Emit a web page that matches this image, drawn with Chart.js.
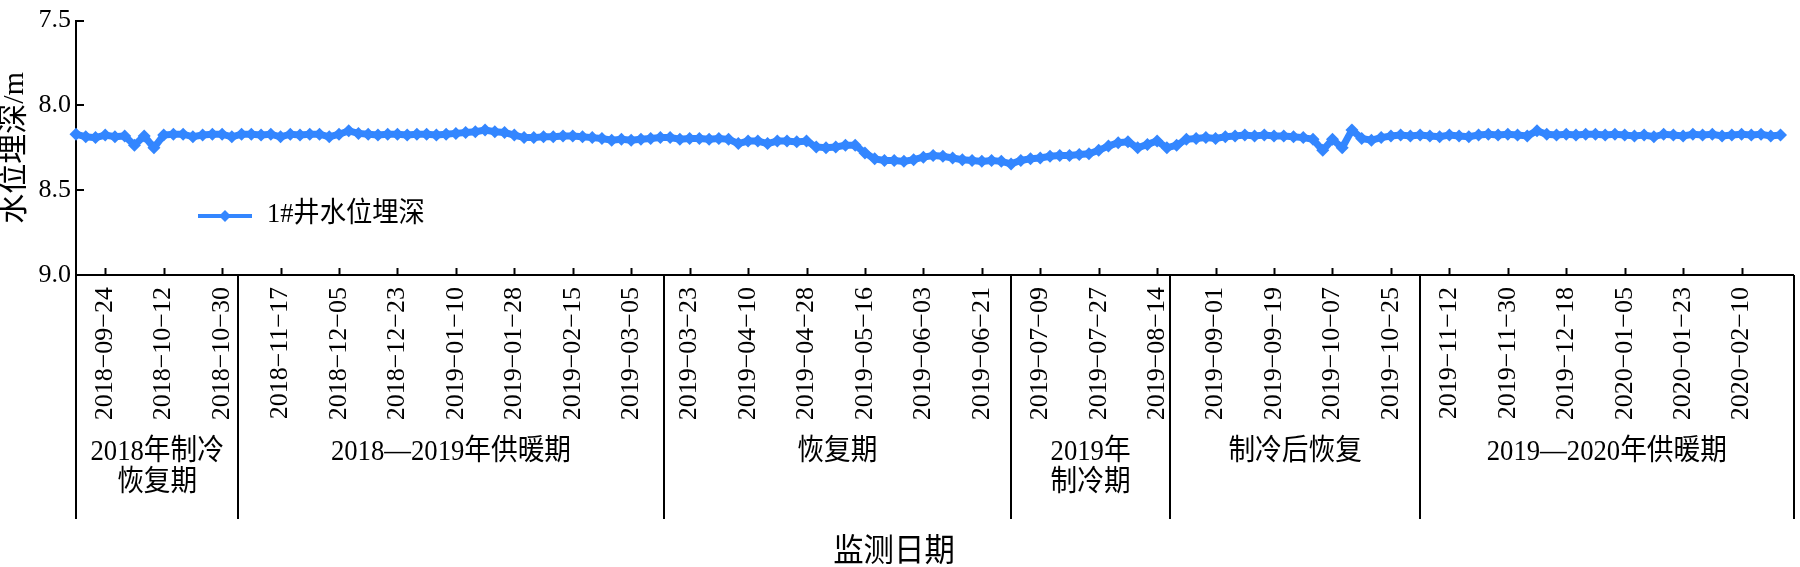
<!DOCTYPE html>
<html>
<head>
<meta charset="utf-8">
<script src="https://cdn.jsdelivr.net/npm/chart.js@4.4.0/dist/chart.umd.min.js"></script>
<style>
  html, body { margin: 0; padding: 0; background: #fff; }
  canvas { display: block; }
</style>
</head>
<body>
<canvas id="depthChart" width="1800" height="567"></canvas>
<script>
// first sample date, then one reading every 3 days
var depthStart = '2018-09-15';
var depthStepDays = 3;
var depthValues = [
    8.17, 8.185, 8.19, 8.175, 8.185, 8.18, 8.235, 8.18, 8.25, 8.175,
    8.17, 8.17, 8.185, 8.175, 8.17, 8.17, 8.185, 8.17, 8.17, 8.175,
    8.17, 8.185, 8.17, 8.175, 8.17, 8.17, 8.185, 8.17, 8.15, 8.165,
    8.17, 8.175, 8.17, 8.17, 8.175, 8.17, 8.17, 8.175, 8.17, 8.165,
    8.16, 8.155, 8.145, 8.155, 8.16, 8.175, 8.19, 8.19, 8.185, 8.185,
    8.18, 8.18, 8.185, 8.19, 8.195, 8.205, 8.2, 8.205, 8.2, 8.195,
    8.19, 8.19, 8.2, 8.195, 8.195, 8.2, 8.195, 8.2, 8.225, 8.21,
    8.21, 8.225, 8.21, 8.21, 8.215, 8.21, 8.245, 8.25, 8.245, 8.235,
    8.235, 8.28, 8.315, 8.325, 8.325, 8.33, 8.32, 8.305, 8.295, 8.3,
    8.31, 8.32, 8.325, 8.33, 8.325, 8.33, 8.345, 8.325, 8.315, 8.31,
    8.3, 8.295, 8.295, 8.29, 8.285, 8.265, 8.24, 8.22, 8.215, 8.25,
    8.23, 8.21, 8.25, 8.235, 8.2, 8.195, 8.19, 8.195, 8.185, 8.18,
    8.175, 8.18, 8.175, 8.18, 8.18, 8.185, 8.19, 8.2, 8.265, 8.2,
    8.25, 8.145, 8.195, 8.205, 8.19, 8.18, 8.175, 8.18, 8.175, 8.18,
    8.185, 8.175, 8.18, 8.185, 8.175, 8.17, 8.175, 8.17, 8.175, 8.18,
    8.15, 8.17, 8.175, 8.17, 8.175, 8.17, 8.17, 8.175, 8.17, 8.175,
    8.18, 8.175, 8.185, 8.17, 8.175, 8.18, 8.17, 8.175, 8.17, 8.18,
    8.175, 8.17, 8.175, 8.17, 8.18, 8.175
];

var axisEnd = '2020-02-26';

var tickDates = [
    '2018-09-24', '2018-10-12', '2018-10-30', '2018-11-17', '2018-12-05',
    '2018-12-23', '2019-01-10', '2019-01-28', '2019-02-15', '2019-03-05',
    '2019-03-23', '2019-04-10', '2019-04-28', '2019-05-16', '2019-06-03',
    '2019-06-21', '2019-07-09', '2019-07-27', '2019-08-14', '2019-09-01',
    '2019-09-19', '2019-10-07', '2019-10-25', '2019-11-12', '2019-11-30',
    '2019-12-18', '2020-01-05', '2020-01-23', '2020-02-10'
];
var depthTicks = [7.5, 8.0, 8.5, 9.0];

// period boxes under the axis: edges and names
var periodEdges = ['2018-09-15', '2018-11-04', '2019-03-15', '2019-06-30', '2019-08-18', '2019-11-03', '2020-02-26'];
var periodNames = [
    ['2018年制冷', '恢复期'],
    ['2018—2019年供暖期'],
    ['恢复期'],
    ['2019年', '制冷期'],
    ['制冷后恢复'],
    ['2019—2020年供暖期']
];

var seriesName = '1#井水位埋深';
var blue = 'rgb(51,134,255)';
var serif = "'Liberation Serif', 'Noto Sans CJK SC', serif";

function dayOf(s) {
    return (Date.parse(s + 'T00:00:00Z') - Date.parse(depthStart + 'T00:00:00Z')) / 86400000;
}

var points = [];
for (var i = 0; i < depthValues.length; i++) {
    points.push({ x: i * depthStepDays, y: depthValues[i] });
}

// condensed text like the journal figure
function squeezeText(ctx, txt, x, y, size, sx, align) {
    ctx.save();
    ctx.font = size + 'px ' + serif;
    ctx.textAlign = align || 'center';
    ctx.textBaseline = 'middle';
    ctx.translate(x, y);
    ctx.scale(sx, 1);
    ctx.fillText(txt, 0, 0);
    ctx.restore();
}

var extras = {
    id: 'extras',
    afterDraw: function (chart) {
        var ctx = chart.ctx;
        var xs = chart.scales.x, ys = chart.scales.y;
        var area = chart.chartArea;
        var boxBottom = 519;

        ctx.save();
        ctx.strokeStyle = '#000';
        ctx.lineWidth = 2;

        // inward tick marks
        tickDates.forEach(function (d) {
            var px = Math.round(xs.getPixelForValue(dayOf(d))) + 0.5;
            ctx.beginPath();
            ctx.moveTo(px, area.bottom);
            ctx.lineTo(px, area.bottom - 7);
            ctx.stroke();
        });
        depthTicks.slice(0, 3).forEach(function (v) {
            var py = Math.round(ys.getPixelForValue(v));
            ctx.beginPath();
            ctx.moveTo(area.left, py);
            ctx.lineTo(area.left + 8, py);
            ctx.stroke();
        });

        // period dividers
        periodEdges.forEach(function (d) {
            var px = Math.round(xs.getPixelForValue(dayOf(d)));
            ctx.beginPath();
            ctx.moveTo(px, area.bottom);
            ctx.lineTo(px, boxBottom);
            ctx.stroke();
        });

        ctx.fillStyle = '#000';
        for (var k = 0; k < periodNames.length; k++) {
            var x0 = xs.getPixelForValue(dayOf(periodEdges[k]));
            var x1 = xs.getPixelForValue(dayOf(periodEdges[k + 1]));
            var lines = periodNames[k];
            for (var j = 0; j < lines.length; j++) {
                squeezeText(ctx, lines[j], (x0 + x1) / 2, 452 + j * 31, 29, 0.92);
            }
        }

        // x title
        squeezeText(ctx, '监测日期', 894, 553, 32, 0.95);

        // legend
        ctx.strokeStyle = blue;
        ctx.lineWidth = 4;
        ctx.beginPath();
        ctx.moveTo(198, 216);
        ctx.lineTo(252, 216);
        ctx.stroke();
        ctx.fillStyle = blue;
        ctx.beginPath();
        ctx.moveTo(225, 210);
        ctx.lineTo(231, 216);
        ctx.lineTo(225, 222);
        ctx.lineTo(219, 216);
        ctx.closePath();
        ctx.fill();
        ctx.fillStyle = '#000';
        squeezeText(ctx, seriesName, 267, 215, 28, 0.94, 'left');

        ctx.restore();
    }
};

var ctx = document.getElementById('depthChart').getContext('2d');
var depthChart = new Chart(ctx, {
    type: 'line',
    data: {
        datasets: [{
            label: seriesName,
            data: points,
            borderColor: blue,
            backgroundColor: blue,
            borderWidth: 7,
            pointStyle: 'rectRot',
            pointRadius: 6.5,
            pointBorderWidth: 0,
            pointBackgroundColor: blue,
            tension: 0,
            clip: false
        }]
    },
    options: {
        responsive: false,
        animation: false,
        devicePixelRatio: 1,
        layout: { padding: { top: 19, right: 6, left: 0, bottom: 0 } },
        plugins: {
            legend: { display: false },
            tooltip: { enabled: false }
        },
        scales: {
            x: {
                type: 'linear',
                min: 0,
                max: dayOf(axisEnd),
                grid: { display: false, drawTicks: false },
                border: { display: true, color: '#000', width: 2 },
                afterBuildTicks: function (scale) {
                    scale.ticks = tickDates.map(function (d) { return { value: dayOf(d) }; });
                },
                afterFit: function (scale) { scale.height = 292; },
                ticks: {
                    autoSkip: false,
                    minRotation: 90,
                    maxRotation: 90,
                    padding: 12,
                    color: '#000',
                    font: { family: serif, size: 26 },
                    callback: function (v) {
                        for (var i = 0; i < tickDates.length; i++) {
                            if (dayOf(tickDates[i]) === v) return tickDates[i].replace(/-/g, '\u2212');
                        }
                        return '';
                    }
                }
            },
            y: {
                type: 'linear',
                reverse: true,
                min: 7.5,
                max: 9.0,
                grid: { display: false, drawTicks: false },
                border: { display: true, color: '#000', width: 2 },
                afterBuildTicks: function (scale) {
                    scale.ticks = depthTicks.map(function (v) { return { value: v }; });
                },
                afterFit: function (scale) { scale.width = 76; },
                ticks: {
                    padding: 5,
                    color: '#000',
                    font: { family: serif, size: 26 },
                    callback: function (v) { return v.toFixed(1); }
                },
                title: {
                    display: true,
                    text: '水位埋深/m',
                    color: '#000',
                    padding: 0,
                    font: { family: serif, size: 30, lineHeight: 1 }
                }
            }
        }
    },
    plugins: [extras]
});
</script>
</body>
</html>
